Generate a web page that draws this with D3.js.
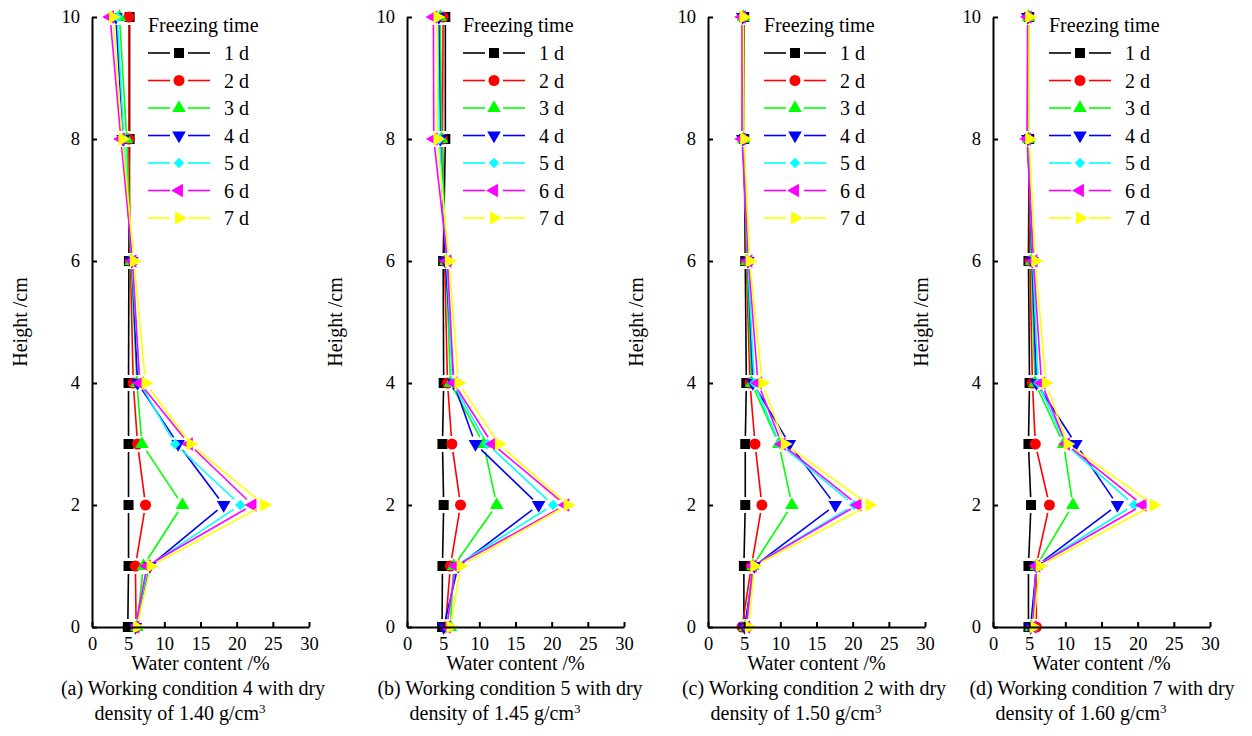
<!DOCTYPE html>
<html>
<head>
<meta charset="utf-8">
<script src="https://cdn.jsdelivr.net/npm/d3@7"></script>
<style>
  html, body { margin: 0; padding: 0; background: #fff; }
  svg text { font-family: "Liberation Serif", "Times New Roman", serif; fill: #000; }
</style>
</head>
<body>
<svg id="chart" width="1252" height="736"></svg>
<script>
// Sampling heights along the specimen (cm)
const heights = [0, 1, 2, 3, 4, 6, 8, 10];
const seriesNames = ["1 d", "2 d", "3 d", "4 d", "5 d", "6 d", "7 d"];
const seriesColors = ["#000000", "#ff0000", "#00ff00", "#0000ff", "#00ffff", "#ff00ff", "#ffff00"];
const xTicks = [0, 5, 10, 15, 20, 25, 30];
const yTicks = [0, 2, 4, 6, 8, 10];

// Water content (%) at each height, one row per freezing time
const wcDensity140 = [
  [4.95, 5.05, 5.05, 5.05, 5.05, 5.1, 5.2, 5.2],
  [6.1, 6.0, 7.4, 6.3, 5.7, 5.3, 5.1, 5.1],
  [6.2, 7.1, 12.5, 6.9, 6.2, 5.4, 4.8, 3.8],
  [6.0, 8.0, 18.2, 11.9, 6.3, 5.5, 4.3, 3.3],
  [6.0, 7.8, 20.5, 11.5, 6.6, 5.5, 4.4, 3.5],
  [6.0, 7.6, 22.2, 13.4, 6.6, 5.6, 4.0, 2.5],
  [6.2, 8.1, 23.8, 13.6, 7.4, 5.8, 4.2, 2.9]
];
const wcDensity145 = [
  [4.85, 4.9, 5.07, 4.9, 5.07, 5.0, 5.3, 5.3],
  [5.3, 6.0, 7.4, 6.2, 5.6, 5.2, 4.9, 5.0],
  [6.0, 6.45, 12.4, 10.6, 6.0, 5.4, 4.8, 4.6],
  [5.07, 7.06, 18.2, 9.46, 6.45, 5.3, 4.6, 4.4],
  [5.5, 6.7, 20.2, 11.1, 6.3, 5.5, 4.5, 4.2],
  [5.5, 6.7, 21.9, 11.8, 6.45, 5.6, 3.7, 3.65],
  [6.0, 7.4, 22.2, 12.7, 7.1, 5.8, 4.2, 4.2]
];
const wcDensity150 = [
  [4.96, 4.96, 5.15, 5.15, 5.3, 5.15, 5.0, 5.0],
  [4.7, 6.0, 7.45, 6.5, 5.8, 5.3, 4.9, 4.9],
  [5.15, 6.2, 11.6, 9.8, 6.0, 5.4, 4.9, 4.9],
  [5.05, 6.4, 17.6, 11.25, 6.2, 5.5, 4.8, 4.8],
  [5.3, 6.2, 20.2, 9.9, 6.4, 5.5, 4.8, 4.8],
  [5.3, 6.2, 20.7, 10.2, 6.9, 5.6, 4.7, 4.7],
  [5.65, 6.4, 22.3, 10.6, 7.5, 5.75, 5.0, 4.9]
];
const wcDensity160 = [
  [4.9, 4.9, 5.25, 4.9, 5.05, 4.9, 5.0, 5.0],
  [6.0, 5.95, 7.8, 5.85, 5.45, 5.1, 4.9, 4.9],
  [5.3, 6.0, 11.05, 9.75, 5.8, 5.3, 4.9, 4.9],
  [5.2, 6.0, 17.2, 11.45, 6.0, 5.4, 4.8, 4.8],
  [5.45, 6.0, 19.5, 10.0, 6.25, 5.5, 4.8, 4.9],
  [5.5, 6.0, 20.7, 10.1, 6.7, 5.6, 4.7, 4.8],
  [5.6, 6.45, 22.2, 10.3, 7.3, 5.85, 5.0, 5.0]
];

const panelLetters = ["a", "b", "c", "d"];
const conditions = ["4", "5", "2", "7"];
const densities = ["1.40", "1.45", "1.50", "1.60"];
const panelData = [wcDensity140, wcDensity145, wcDensity150, wcDensity160];

// Layout
const axisLeft = [92, 407, 708, 993];
const captionShift = [101, 103, 106, 109];
const plotW = 217;
const plotTop = 17, plotBottom = 627;
const serif = "'Liberation Serif', 'Times New Roman', serif";

const svg = d3.select("#chart");

// Marker shapes for each freezing time
const markerGen = [
  { type: d3.symbolSquare, size: 100, rot: 0 },
  { type: d3.symbolCircle, size: 95, rot: 0 },
  { type: d3.symbolTriangle, size: 80, rot: 0 },
  { type: d3.symbolTriangle, size: 80, rot: 180 },
  { type: d3.symbolSquare, size: 55, rot: 45 },
  { type: d3.symbolTriangle, size: 80, rot: -90 },
  { type: d3.symbolTriangle, size: 80, rot: 90 }
];
function marker(g, i, x, y) {
  const m = markerGen[i];
  g.append("path")
    .attr("d", d3.symbol().type(m.type).size(m.size)())
    .attr("transform", `translate(${x},${y}) rotate(${m.rot})`)
    .attr("fill", seriesColors[i]);
}
function label(g, x, y, size, str) {
  return g.append("text").attr("x", x).attr("y", y)
    .attr("font-family", serif).attr("font-size", size).text(str);
}

const gap = 8; // line stops short of each marker

panelData.forEach((data, p) => {
  const x0 = axisLeft[p];
  const x = d3.scaleLinear().domain([0, 30]).range([x0, x0 + plotW]);
  const y = d3.scaleLinear().domain([0, 10]).range([plotBottom, plotTop]);
  const g = svg.append("g");

  // Series: line segments with gaps, then markers
  data.forEach((vals, s) => {
    const pts = vals.map((v, k) => [x(v), y(heights[k])]);
    const sg = g.append("g");
    for (let k = 0; k < pts.length - 1; k++) {
      const [ax, ay] = pts[k], [bx, by] = pts[k + 1];
      const dx = bx - ax, dy = by - ay, len = Math.hypot(dx, dy);
      if (len <= 2 * gap) continue;
      const ux = dx / len, uy = dy / len;
      sg.append("line")
        .attr("x1", ax + ux * gap).attr("y1", ay + uy * gap)
        .attr("x2", bx - ux * gap).attr("y2", by - uy * gap)
        .attr("stroke", seriesColors[s]).attr("stroke-width", 1.6);
    }
    pts.forEach(([px, py]) => marker(sg, s, px, py));
  });

  // Axes
  const xAxis = d3.axisBottom(x).tickValues(xTicks).tickSizeInner(-5).tickSizeOuter(0).tickPadding(10);
  const gx = g.append("g").attr("transform", `translate(0,${plotBottom})`).call(xAxis);
  const yAxis = d3.axisLeft(y).tickValues(yTicks).tickSizeInner(-5).tickSizeOuter(0).tickPadding(12);
  const gy = g.append("g").attr("transform", `translate(${x0},0)`).call(yAxis);
  [gx, gy].forEach(a => {
    a.attr("font-family", serif).attr("font-size", 18.5);
    a.select(".domain").attr("stroke", "#000").attr("stroke-width", 2);
    a.selectAll(".tick line").attr("stroke", "#000").attr("stroke-width", 2);
    a.selectAll(".tick text").attr("fill", "#000");
  });

  // Axis titles
  label(g, x0 + plotW / 2, 670, 20, "Water content /%").attr("text-anchor", "middle");
  g.append("text")
    .attr("transform", `translate(${x0 - 65},${(plotTop + plotBottom) / 2}) rotate(-90)`)
    .attr("text-anchor", "middle").attr("font-family", serif).attr("font-size", 20)
    .text("Height /cm");

  // Caption
  label(g, x0 + captionShift[p], 695, 20, `(${panelLetters[p]}) Working condition ${conditions[p]} with dry`)
    .attr("text-anchor", "middle");
  const cap2 = label(g, x0 + 88, 720, 20, "").attr("text-anchor", "middle");
  cap2.append("tspan").text(`density of ${densities[p]} g/cm`);
  cap2.append("tspan").attr("dy", -7).attr("font-size", 13).text("3");

  // Legend
  const lx = x0 + 56;
  const lg = g.append("g");
  label(lg, lx, 32, 20, "Freezing time");
  seriesNames.forEach((name, s) => {
    const ly = 53 + s * 27.5;
    lg.append("line").attr("x1", lx).attr("x2", lx + 22).attr("y1", ly).attr("y2", ly)
      .attr("stroke", seriesColors[s]).attr("stroke-width", 1.6);
    lg.append("line").attr("x1", lx + 40).attr("x2", lx + 62).attr("y1", ly).attr("y2", ly)
      .attr("stroke", seriesColors[s]).attr("stroke-width", 1.6);
    marker(lg, s, lx + 31, ly);
    label(lg, lx + 76, ly + 7, 20, name);
  });
});
</script>
</body>
</html>
